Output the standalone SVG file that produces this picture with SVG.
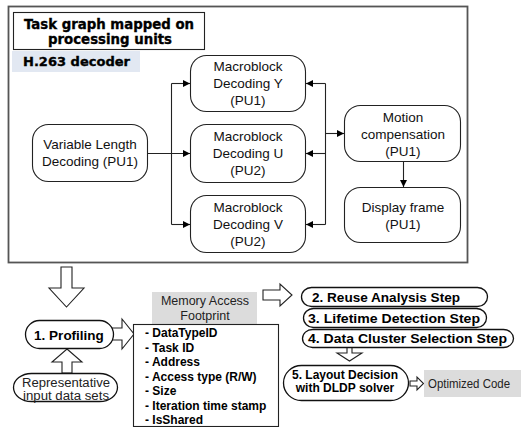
<svg xmlns="http://www.w3.org/2000/svg" width="521" height="427" viewBox="0 0 521 427">
<style>
.bg{fill:#fff}
.node{fill:#fff;stroke:#222;stroke-width:1.1}
.pill{fill:#fff;stroke:#111;stroke-width:1.3}
.t{font-family:"Liberation Sans",Arial,sans-serif;font-size:13.5px;fill:#111;text-anchor:middle}
.s{font-family:"Liberation Sans",Arial,sans-serif;fill:#222}
.b{font-family:"Liberation Sans",Arial,sans-serif;font-weight:bold;fill:#000}
.hv{font-family:"DejaVu Sans","Liberation Sans",sans-serif;font-weight:bold;fill:#000;stroke:#000;stroke-width:0.35}
.edge{fill:none;stroke:#222;stroke-width:1.1;marker-end:url(#ah)}
.line{fill:none;stroke:#222;stroke-width:1.1}
.hollow{fill:#fff;stroke:#222;stroke-width:1.1;stroke-linejoin:miter}
.gray{fill:#dcdcdc}
</style>
<defs>
<marker id="ah" viewBox="0 0 10 10" refX="10" refY="5" markerWidth="8" markerHeight="7" markerUnits="userSpaceOnUse" orient="auto">
<path d="M0,0 L10,5 L0,10 z" fill="#000"/>
</marker>
</defs>
<rect class="bg" x="0" y="0" width="521" height="427"/>

<g id="frame">
<rect x="8.5" y="6.5" width="459" height="256" fill="none" stroke="#555" stroke-width="1.8"/>
</g>
<g id="title">
<rect x="13.5" y="12.5" width="191" height="37" fill="#fff" stroke="#222" stroke-width="1.1"/>
<text class="hv" x="109" y="29" font-size="14" text-anchor="middle" textLength="170" lengthAdjust="spacingAndGlyphs">Task graph mapped on</text>
<text class="hv" x="110" y="44" font-size="14" text-anchor="middle" textLength="124" lengthAdjust="spacingAndGlyphs">processing units</text>
</g>
<g id="h263">
<rect x="12" y="51" width="128" height="21" fill="#e2e8f2"/>
<text class="hv" x="23" y="66" font-size="13" textLength="107" lengthAdjust="spacingAndGlyphs">H.263 decoder</text>
</g>

<g id="vld">
<rect class="node" x="32.5" y="124.5" width="115" height="57" rx="16"/>
<text class="t" x="90" y="149">Variable Length</text>
<text class="t" x="90" y="166">Decoding (PU1)</text>
</g>
<g id="mbY">
<rect class="node" x="190.5" y="55.5" width="115" height="56" rx="16"/>
<text class="t" x="248" y="71">Macroblock</text>
<text class="t" x="248" y="88">Decoding Y</text>
<text class="t" x="248" y="105">(PU1)</text>
</g>
<g id="mbU">
<rect class="node" x="190.5" y="124.5" width="115" height="58" rx="16"/>
<text class="t" x="248" y="141">Macroblock</text>
<text class="t" x="248" y="158">Decoding U</text>
<text class="t" x="248" y="175">(PU2)</text>
</g>
<g id="mbV">
<rect class="node" x="190.5" y="195.5" width="115" height="57" rx="16"/>
<text class="t" x="248" y="212">Macroblock</text>
<text class="t" x="248" y="229">Decoding V</text>
<text class="t" x="248" y="246">(PU2)</text>
</g>
<g id="motion">
<rect class="node" x="344.5" y="105.5" width="116" height="56" rx="16"/>
<text class="t" x="403" y="122">Motion</text>
<text class="t" x="403" y="139">compensation</text>
<text class="t" x="403" y="156">(PU1)</text>
</g>
<g id="display">
<rect class="node" x="344.5" y="187.5" width="116" height="55" rx="16"/>
<text class="t" x="403" y="212">Display frame</text>
<text class="t" x="403" y="229">(PU1)</text>
</g>

<g id="connectors">
<path class="edge" d="M147.5,153.5 H190"/>
<path class="line" d="M171.5,83.5 V224.5"/>
<path class="edge" d="M171.5,83.5 H190"/>
<path class="edge" d="M171.5,224.5 H190"/>
<path class="line" d="M325.5,83.5 V224.5"/>
<path class="edge" d="M325.5,83.5 H306"/>
<path class="edge" d="M325.5,153.5 H306"/>
<path class="edge" d="M325.5,224.5 H306"/>
<path class="edge" d="M325.5,133.5 H344"/>
<path class="edge" d="M403.5,161.5 V187"/>
<polygon class="hollow" points="61,267 72,267 72,288 84,288 66.5,307 49,288 61,288"/>
<polygon class="hollow" points="67,349 82,362 72,362 72,373 62,373 62,362 52,362"/>
<polygon class="hollow" points="112,328 122,328 122,319 134,334 122,349 122,340 112,340"/>
<polygon class="hollow" points="263,290 280,290 280,284 292,295 280,306 280,300 263,300"/>
<polygon class="hollow" points="347,347 352,347 352,353 362,353 349.5,361 337,353 347,353"/>
<polygon class="hollow" points="410,381 417,381 417,377 423.5,383.5 417,390 417,386 410,386"/>
</g>

<g id="profiling">
<rect class="pill" x="25.5" y="320.5" width="88" height="28" rx="14" ry="14"/>
<text class="b" x="69" y="339.5" font-size="13.5" text-anchor="middle">1. Profiling</text>
</g>
<g id="representative">
<rect class="pill" x="13.5" y="373.5" width="104" height="28" rx="18" ry="14"/>
<text class="s" x="66" y="386.5" font-size="12.5" text-anchor="middle" textLength="88" lengthAdjust="spacingAndGlyphs">Representative</text>
<text class="s" x="66" y="399.5" font-size="12.5" text-anchor="middle" textLength="86" lengthAdjust="spacingAndGlyphs">input data sets</text>
</g>
<g id="footprint-label">
<rect class="gray" x="152" y="292" width="105" height="32"/>
<text class="s" x="205" y="304.5" font-size="12.5" text-anchor="middle">Memory Access</text>
<text class="s" x="205" y="319.5" font-size="12.5" text-anchor="middle">Footprint</text>
</g>
<g id="footprint-list">
<rect x="133.5" y="324.5" width="145" height="102" fill="#fff" stroke="#222" stroke-width="1.1"/>
<text class="b" x="145" y="337" font-size="12">- DataTypeID</text>
<text class="b" x="145" y="351.5" font-size="12">- Task ID</text>
<text class="b" x="145" y="366" font-size="12">- Address</text>
<text class="b" x="145" y="380.5" font-size="12">- Access type (R/W)</text>
<text class="b" x="145" y="395" font-size="12">- Size</text>
<text class="b" x="145" y="409.5" font-size="12">- Iteration time stamp</text>
<text class="b" x="145" y="424" font-size="12">- IsShared</text>
</g>
<g id="step2">
<rect class="pill" x="301.5" y="287.5" width="186" height="19" rx="10" ry="9.5"/>
<text class="b" x="312" y="302" font-size="13.5" textLength="148" lengthAdjust="spacingAndGlyphs">2. Reuse Analysis Step</text>
</g>
<g id="step3">
<rect class="pill" x="303.5" y="308.5" width="183" height="19" rx="10" ry="9.5"/>
<text class="b" x="308" y="322.5" font-size="13.5" textLength="172" lengthAdjust="spacingAndGlyphs">3. Lifetime Detection Step</text>
</g>
<g id="step4">
<rect class="pill" x="302.5" y="329.5" width="211" height="18" rx="10" ry="9"/>
<text class="b" x="308" y="343" font-size="13.5" textLength="199" lengthAdjust="spacingAndGlyphs">4. Data Cluster Selection Step</text>
</g>
<g id="step5">
<rect class="pill" x="283.5" y="365.5" width="125" height="35" rx="18" ry="17.5"/>
<text class="b" x="345" y="378.5" font-size="12" text-anchor="middle">5. Layout Decision</text>
<text class="b" x="345" y="392" font-size="12" text-anchor="middle">with DLDP solver</text>
</g>
<g id="optimized">
<rect class="gray" x="424" y="370" width="97" height="27"/>
<text class="s" x="428" y="388" font-size="12.5" text-anchor="start" textLength="82" lengthAdjust="spacingAndGlyphs">Optimized Code</text>
</g>
</svg>
